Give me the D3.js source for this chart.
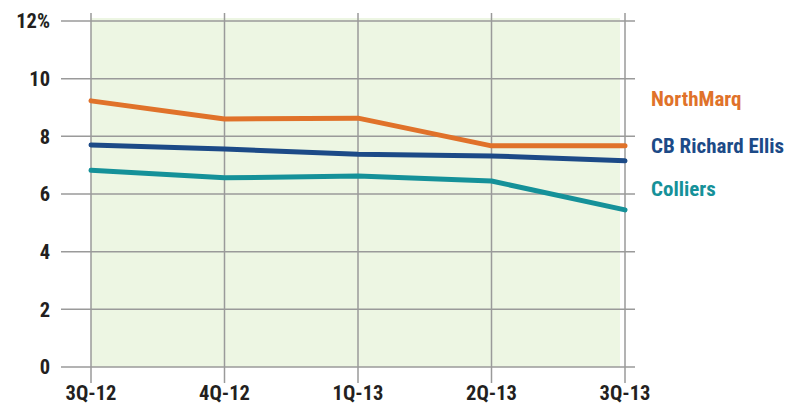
<!DOCTYPE html>
<html>
<head>
<meta charset="utf-8">
<script src="https://cdn.jsdelivr.net/npm/d3@7"></script>
<style>
  body { margin: 0; background: #fff; }
  text { font-family: "Liberation Sans Narrow", "Roboto Condensed", "Liberation Sans", sans-serif; font-weight: bold; }
</style>
</head>
<body>
<div id="container"></div>
<script>
/* DATA */
const quarters = ["3Q-12", "4Q-12", "1Q-13", "2Q-13", "3Q-13"];
const yTicks = [0, 2, 4, 6, 8, 10, 12];
const northMarq = [9.23, 8.6, 8.63, 7.67, 7.67];
const cbRichardEllis = [7.7, 7.56, 7.38, 7.32, 7.15];
const colliers = [6.82, 6.56, 6.62, 6.45, 5.45];

const series = [
  { name: "NorthMarq", values: northMarq, color: "#e0722a", labelY: 98 },
  { name: "CB Richard Ellis", values: cbRichardEllis, color: "#1c4a87", labelY: 145 },
  { name: "Colliers", values: colliers, color: "#159199", labelY: 188 }
];

/* CONSTANTS */
const width = 796, height = 405;

const svg = d3.select("#container")
  .append("svg")
  .attr("width", width)
  .attr("height", height);

// SCALES
const xScale = d3.scalePoint()
  .domain(quarters)
  .range([91, 625]);

const yScale = d3.scaleLinear()
  .domain([0, 12])
  .range([367, 21]);

// background panel
svg.append("rect")
  .attr("x", xScale(quarters[0]))
  .attr("y", yScale(12) - 3)
  .attr("width", xScale(quarters[4]) - 5 - xScale(quarters[0]))
  .attr("height", yScale(0) - yScale(12) + 3)
  .attr("fill", "#edf6e3");

// horizontal grid
svg.append("g")
  .selectAll("line")
  .data(yTicks)
  .join("line")
  .attr("x1", 61)
  .attr("x2", 635)
  .attr("y1", d => yScale(d))
  .attr("y2", d => yScale(d))
  .attr("stroke", "#9a9a9a")
  .attr("stroke-width", 1.5);

// vertical grid
svg.append("g")
  .selectAll("line")
  .data(quarters)
  .join("line")
  .attr("x1", d => xScale(d))
  .attr("x2", d => xScale(d))
  .attr("y1", 13)
  .attr("y2", 383)
  .attr("stroke", "#9a9a9a")
  .attr("stroke-width", 1.5);

// y labels
svg.append("g")
  .selectAll("text")
  .data(yTicks)
  .join("text")
  .attr("x", 50)
  .attr("y", d => yScale(d))
  .attr("dy", "0.36em")
  .attr("text-anchor", "end")
  .attr("font-size", 20.5)
  .attr("fill", "#231f20")
  .text(d => d === 12 ? "12%" : d);

// x labels
svg.append("g")
  .selectAll("text")
  .data(quarters)
  .join("text")
  .attr("x", d => xScale(d))
  .attr("y", 400)
  .attr("text-anchor", "middle")
  .attr("font-size", 20.5)
  .attr("fill", "#231f20")
  .text(d => d);

// LINES
const line = d3.line()
  .x((d, i) => xScale(quarters[i]))
  .y(d => yScale(d));

svg.append("g")
  .selectAll("path")
  .data(series)
  .join("path")
  .attr("d", d => line(d.values))
  .attr("fill", "none")
  .attr("stroke", d => d.color)
  .attr("stroke-width", 5)
  .attr("stroke-linecap", "round")
  .attr("stroke-linejoin", "round");

// labels
svg.append("g")
  .selectAll("text")
  .data(series)
  .join("text")
  .attr("x", 651)
  .attr("y", d => d.labelY)
  .attr("dy", "0.36em")
  .attr("font-size", 21)
  .attr("fill", d => d.color)
  .text(d => d.name);
</script>
</body>
</html>
